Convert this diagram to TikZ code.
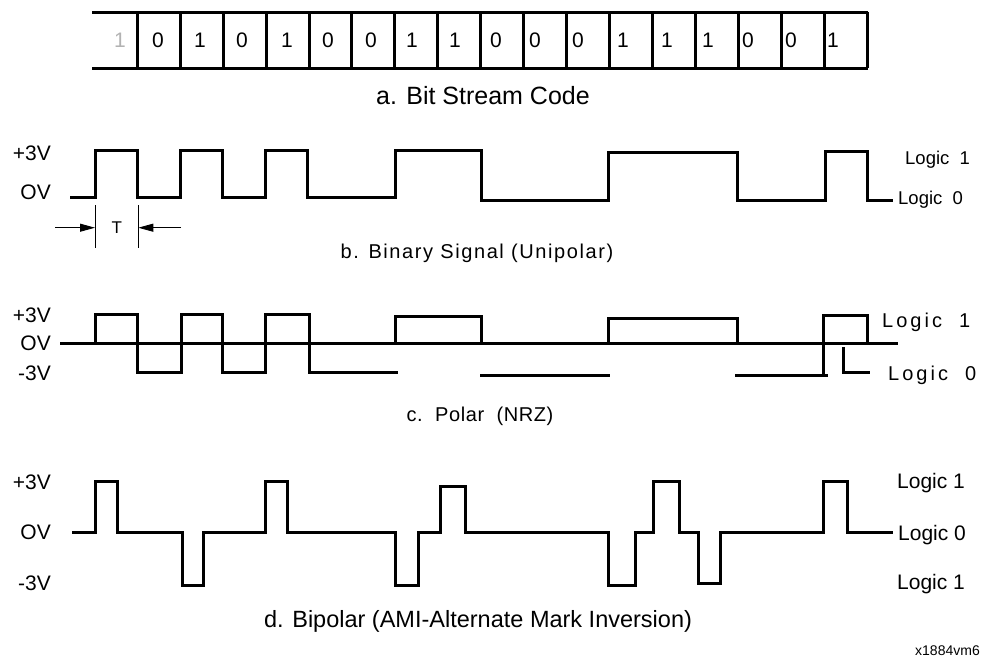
\documentclass[tikz,border=0pt]{standalone}
\usepackage{fontspec}
\setmainfont{Liberation Sans}
\newfontfamily\spaceda[LetterSpace=8]{Liberation Sans}
\newfontfamily\spacedb[LetterSpace=15]{Liberation Sans}
\newfontfamily\spacedc[LetterSpace=3]{Liberation Sans}
\usetikzlibrary{arrows.meta}
\newcommand{\myfs}[1]{\fontsize{#1}{#1}\selectfont}
\begin{document}
\begin{tikzpicture}[x=1pt,y=-1pt,
  wave/.style={line width=3pt, line join=miter},
  boxline/.style={line width=3pt},
  tickline/.style={line width=0.9pt},
  lbl/.style={inner sep=0pt, anchor=base},
  lblr/.style={inner sep=0pt, anchor=base east, font=\myfs{21}},
  lbll/.style={inner sep=0pt, anchor=base west},
  digit/.style={inner sep=0pt, anchor=base, font=\myfs{21}},
  tarrow/.style={line width=0.9pt, -{Triangle[length=15pt,width=8pt]}}]
\useasboundingbox (0,0) rectangle (986,662);

% ---------- a. bit stream box ----------
\draw[boxline] (92,12) -- (868,12);
\draw[boxline] (92,68) -- (868,68);
\foreach \k in {1,...,18} {
  \draw[boxline] ({94.3+42.94*\k},12) -- ({94.3+42.94*\k},68);
}
\node[digit, text=black!30] (d0) at (120,47.5) {1};
\foreach \x/\d [count=\i] in {158/0,200/1,242/0,287/1,328/0,371/0,412/1,455/1,496/0,535/0,578/0,623/1,667/1,708/1,748/0,791/0,833/1} {
  \node[digit] (d\i) at (\x,47.5) {\d};
}
\node[lbl, font=\myfs{25}] (capa) at (483,104.5) {a. Bit Stream Code};

% ---------- b. binary (unipolar) ----------
\node[lblr] (b3v) at (51,160.5) {+3V};
\node[lblr] (b0v) at (51,199) {OV};
\draw[wave] (70,197) -- (95,197) -- (95,150) -- (137,150) -- (137,197) -- (180,197)
  -- (180,150) -- (222,150) -- (222,197) -- (265,197) -- (265,150) -- (307,150)
  -- (307,197) -- (395,197) -- (395,150) -- (481,150) -- (481,200) -- (608,200)
  -- (608,152) -- (737,152) -- (737,200) -- (825,200) -- (825,151) -- (867,151)
  -- (867,200) -- (893,200);
\node[lbll, font=\myfs{18.5}] (bl1) at (905,164.6) {Logic\ \ 1};
\node[lbll, font=\myfs{18.5}] (bl0) at (898,204.6) {Logic\ \ 0};
% T marker
\coordinate (ta) at (95,205);   \coordinate (tb) at (95,248);
\coordinate (tc) at (138.3,205); \coordinate (td) at (138.3,248);
\draw[tickline] (ta) -- (tb);
\draw[tickline] (tc) -- (td);
\coordinate (la) at (55,227.7);  \coordinate (lb) at (95,227.7);
\coordinate (ra) at (181,227.7); \coordinate (rb) at (138.3,227.7);
\draw[tarrow] (la) -- (lb);
\draw[tarrow] (ra) -- (rb);
\node[lbl, font=\myfs{17}] (tlab) at (116.7,233) {T};
\node[lbl, font=\spaceda\myfs{20}] (capb) at (477,258.7) {b. Binary Signal (Unipolar)};

% ---------- c. polar (NRZ) ----------
\node[lblr] (c3v) at (51,322.5) {+3V};
\node[lblr] (c0v) at (51,350.5) {OV};
\node[lblr] (cm3v) at (51,380.5) {-3V};
\draw[wave] (60,343) -- (898,343);
\draw[wave] (95,343) -- (95,314) -- (137,314) -- (137,372) -- (181,372) -- (181,314)
  -- (222,314) -- (222,372) -- (265,372) -- (265,314) -- (309,314) -- (309,372) -- (398,372);
\draw[wave] (395,343) -- (395,316) -- (481,316) -- (481,343);
\draw[wave] (480,375) -- (610,375);
\draw[wave] (608,343) -- (608,318) -- (737,318) -- (737,343);
\draw[wave] (735,375) -- (828,375);
\draw[wave] (823,375) -- (823,315) -- (867,315) -- (867,343);
\draw[wave] (843,347) -- (843,372) -- (870,372);
\node[lbll, font=\spacedb\myfs{20}] (cl1) at (882,327.7) {Logic\ \ 1};
\node[lbll, font=\spacedb\myfs{20}] (cl0) at (888,380) {Logic\ \ 0};
\node[lbl, font=\spacedc\myfs{20}] (capc) at (480,421) {c.\ \ Polar\ \ (NRZ)};

% ---------- d. bipolar (AMI) ----------
\node[lblr] (d3v) at (51,489.2) {+3V};
\node[lblr] (d0v) at (51,539.2) {OV};
\node[lblr] (dm3v) at (51,590.8) {-3V};
\draw[wave] (72,532) -- (95,532) -- (95,481) -- (117,481) -- (117,532) -- (182,532)
  -- (182,585) -- (203,585) -- (203,532) -- (265,532) -- (265,481) -- (287,481)
  -- (287,532) -- (395,532) -- (395,585) -- (418,585) -- (418,532) -- (440,532)
  -- (440,486) -- (465,486) -- (465,532) -- (608,532) -- (608,585) -- (635,585)
  -- (635,532) -- (653,532) -- (653,481) -- (679,481) -- (679,532) -- (698,532)
  -- (698,583) -- (720,583) -- (720,532) -- (823,532) -- (823,481) -- (847,481)
  -- (847,532) -- (893,532);
\node[lbll, font=\myfs{21}] (dl1) at (897,488.2) {Logic 1};
\node[lbll, font=\myfs{21}] (dl0) at (898,540.2) {Logic 0};
\node[lbll, font=\myfs{21}] (dl1b) at (897,589.2) {Logic 1};
\node[lbl, font=\myfs{23.5}] (capd) at (478,627) {d. Bipolar (AMI-Alternate Mark Inversion)};
\node[inner sep=0pt, anchor=base east, font=\myfs{14}] (ref) at (980,655) {x1884vm6};
\end{tikzpicture}
\end{document}
